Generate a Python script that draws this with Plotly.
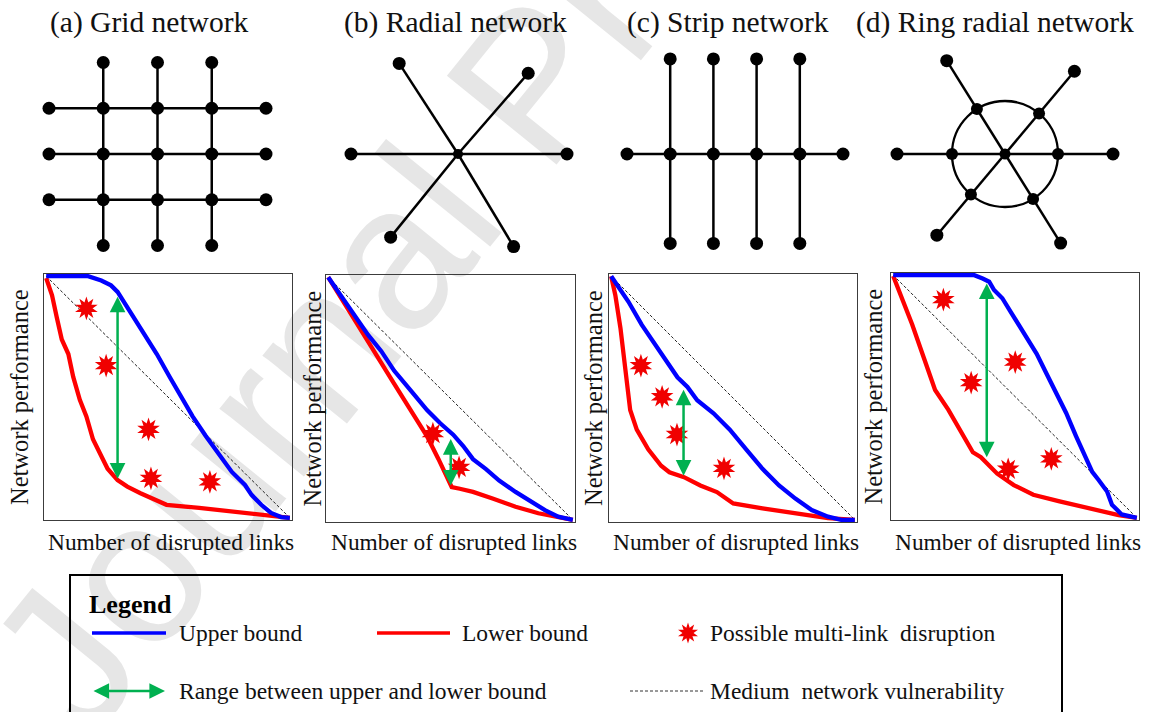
import math
import plotly.graph_objects as go

W, H = 1151, 712


def fx(p):
    return p / W


def fy(p):
    return 1 - p / H


# ---------------- text ----------------
TITLES = ["(a) Grid network", "(b) Radial network", "(c) Strip network", "(d) Ring radial network"]
X_LABEL = "Number of disrupted links"
Y_LABEL = "Network performance"
LEGEND_TITLE = "Legend"
LEGEND_LABELS = ["Upper bound", "Lower bound", "Possible multi-link  disruption",
                 "Range between upper and lower bound", "Medium  network vulnerability"]
WATERMARK = "Journal Pre-proof"

# ---------------- performance curves (normalised 0..1) ----------------
A_UP_X = [0, 0.172, 0.226, 0.266, 0.293, 0.319, 0.360, 0.400, 0.454, 0.507, 0.561, 0.601, 0.655,
          0.709, 0.762, 0.816, 0.843, 0.883, 0.923, 0.964, 1.0]
A_UP_Y = [1.0, 1.0, 0.982, 0.962, 0.935, 0.894, 0.827, 0.766, 0.678, 0.583, 0.488, 0.420, 0.339,
          0.264, 0.190, 0.136, 0.095, 0.054, 0.020, 0.003, 0.0]
A_LO_X = [0, 0.024, 0.044, 0.064, 0.091, 0.111, 0.138, 0.165, 0.192, 0.226, 0.252, 0.293, 0.333,
          0.387, 0.494, 0.628, 0.762, 0.897, 1.0]
A_LO_Y = [0.992, 0.921, 0.827, 0.738, 0.678, 0.583, 0.488, 0.420, 0.325, 0.257, 0.203, 0.156, 0.129,
          0.102, 0.054, 0.041, 0.027, 0.014, 0.0]
A_ARROW = [0.293, 0.915, 0.156]
A_STAR_X = [0.165, 0.246, 0.420, 0.430, 0.672]
A_STAR_Y = [0.867, 0.630, 0.366, 0.163, 0.149]

B_UP_X = [0, 0.043, 0.096, 0.163, 0.217, 0.270, 0.337, 0.404, 0.458, 0.511, 0.552, 0.592, 0.645,
          0.699, 0.766, 0.833, 0.886, 0.940, 1.0]
B_UP_Y = [1.0, 0.938, 0.857, 0.762, 0.695, 0.614, 0.533, 0.452, 0.398, 0.351, 0.304, 0.250, 0.209,
          0.162, 0.115, 0.074, 0.040, 0.013, 0.0]
B_LO_X = [0, 0.070, 0.137, 0.203, 0.270, 0.337, 0.404, 0.451, 0.485, 0.505, 0.538, 0.592, 0.672,
          0.766, 0.859, 0.940, 1.0]
B_LO_Y = [1.0, 0.884, 0.776, 0.668, 0.560, 0.452, 0.344, 0.250, 0.182, 0.135, 0.128, 0.115, 0.088,
          0.054, 0.027, 0.009, 0.0]
B_ARROW = [0.501, 0.333, 0.135]
B_STAR_X = [0.428, 0.535]
B_STAR_Y = [0.355, 0.216]

C_UP_X = [0, 0.031, 0.071, 0.125, 0.179, 0.232, 0.272, 0.313, 0.353, 0.420, 0.487, 0.554, 0.621,
          0.689, 0.756, 0.823, 0.890, 0.944, 1.0]
C_UP_Y = [1.0, 0.956, 0.895, 0.801, 0.720, 0.639, 0.585, 0.545, 0.491, 0.437, 0.370, 0.289, 0.209,
          0.141, 0.087, 0.040, 0.013, 0.0, 0.0]
C_LO_X = [0, 0.017, 0.038, 0.058, 0.078, 0.105, 0.152, 0.205, 0.239, 0.299, 0.366, 0.434, 0.501,
          0.621, 0.756, 0.890, 1.0]
C_LO_Y = [1.0, 0.922, 0.787, 0.612, 0.451, 0.370, 0.289, 0.222, 0.195, 0.175, 0.141, 0.114, 0.067,
          0.047, 0.027, 0.007, 0.0]
C_ARROW = [0.297, 0.534, 0.175]
C_STAR_X = [0.122, 0.209, 0.270, 0.463]
C_STAR_Y = [0.633, 0.505, 0.350, 0.211]

D_UP_X = [0, 0.333, 0.367, 0.394, 0.414, 0.448, 0.481, 0.535, 0.589, 0.629, 0.669, 0.710, 0.750,
          0.790, 0.817, 0.844, 0.878, 0.898, 0.938, 1.0]
D_UP_Y = [1.0, 1.0, 0.986, 0.973, 0.939, 0.905, 0.851, 0.764, 0.676, 0.595, 0.514, 0.432, 0.338,
          0.243, 0.189, 0.155, 0.108, 0.054, 0.014, 0.0]
D_LO_X = [0, 0.038, 0.078, 0.125, 0.172, 0.226, 0.280, 0.327, 0.360, 0.394, 0.427, 0.495, 0.575,
          0.683, 0.817, 0.925, 1.0]
D_LO_Y = [0.997, 0.905, 0.797, 0.662, 0.527, 0.446, 0.351, 0.270, 0.250, 0.216, 0.182, 0.135, 0.095,
          0.068, 0.034, 0.011, 0.0]
D_ARROW = [0.384, 0.966, 0.243]
D_STAR_X = [0.206, 0.501, 0.320, 0.649, 0.472]
D_STAR_Y = [0.899, 0.642, 0.557, 0.243, 0.200]

MEDIUM_X = [0, 1]
MEDIUM_Y = [1, 0]

PANELS = [
    (A_UP_X, A_UP_Y, A_LO_X, A_LO_Y, A_ARROW, A_STAR_X, A_STAR_Y),
    (B_UP_X, B_UP_Y, B_LO_X, B_LO_Y, B_ARROW, B_STAR_X, B_STAR_Y),
    (C_UP_X, C_UP_Y, C_LO_X, C_LO_Y, C_ARROW, C_STAR_X, C_STAR_Y),
    (D_UP_X, D_UP_Y, D_LO_X, D_LO_Y, D_ARROW, D_STAR_X, D_STAR_Y),
]

# ---------------- network topologies ----------------
GRID_INNER = [-1, 0, 1]          # interior rows / columns (grid units)
GRID_END = 2                     # stub end position (grid units)
RADIAL_ANGLES = [0, 49, 123, 180, 231, 301]       # degrees
RADIAL_LENGTHS = [109, 107, 108, 107, 107, 108]
STRIP_COLS = [-1.5, -0.5, 0.5, 1.5]  # strip columns (strip units)
STRIP_END = 2.5
STRIP_TOP = 2.2
STRIP_BOTTOM = -2.07
RING_ANGLES = [0, 50, 122, 180, 230, 302]
RING_LENGTHS = [108, 108, 110, 108, 106, 105]
RING_RADIUS = 53

# ---------------- layout geometry (pixels) ----------------
BOXES = [(44, 274, 292, 520), (326, 275, 575, 522), (609, 274, 857, 522), (891, 273, 1139, 520)]
TITLE_X = [149, 455, 728, 995]
YTITLE_X = [20, 312, 593, 873]
NET_CENTERS = [(157.5, 154), (458, 154), (735, 154), (1005, 154)]
NET_HALF = (130, 108)
GRID_SX, GRID_SY = 54.25, 45.75
STRIP_S = 43.2

SERIF = "Liberation Serif"
BLUE = "#0000ff"
RED = "#ff0000"
GREEN = "#00b050"
STAR_RED = "#f00000"

fig = go.Figure()
layout_axes = {}
annotations = []
shapes = []


def sfx(i):
    return "" if i == 1 else str(i)


def add_axes(i, x0, y0, x1, y1, xr, yr, box):
    common = dict(showgrid=False, zeroline=False, showticklabels=False, ticks="", fixedrange=True)
    if box:
        common.update(showline=True, mirror=True, linecolor="#3c3c3c", linewidth=1)
    else:
        common.update(visible=False)
    layout_axes["xaxis" + sfx(i)] = dict(domain=[fx(x0), fx(x1)], range=xr, anchor="y" + sfx(i), **common)
    layout_axes["yaxis" + sfx(i)] = dict(domain=[fy(y1), fy(y0)], range=yr, anchor="x" + sfx(i), **common)


def star_traces(xs, ys, xa, ya, size):
    out = []
    for ang in (0, 36):
        out.append(go.Scatter(x=xs, y=ys, xaxis=xa, yaxis=ya, mode="markers", hoverinfo="skip",
                              marker=dict(symbol="star", size=size, angle=ang, color=STAR_RED,
                                          line=dict(width=0))))
    return out


# ---------------- performance panels ----------------
PAD = 0.009
for k, (ux, uy, lx, ly, arr, sx, sy) in enumerate(PANELS):
    i = k + 1
    x0, y0, x1, y1 = BOXES[k]
    add_axes(i, x0, y0, x1, y1, [-PAD, 1 + PAD], [-PAD, 1 + PAD], True)
    xa, ya = "x" + sfx(i), "y" + sfx(i)
    fig.add_trace(go.Scatter(x=MEDIUM_X, y=MEDIUM_Y, xaxis=xa, yaxis=ya, mode="lines", hoverinfo="skip",
                             line=dict(color="#222222", width=1, dash="3px,2px")))
    fig.add_trace(go.Scatter(x=lx, y=ly, xaxis=xa, yaxis=ya, mode="lines", hoverinfo="skip",
                             line=dict(color=RED, width=4.3)))
    fig.add_trace(go.Scatter(x=ux, y=uy, xaxis=xa, yaxis=ya, mode="lines", hoverinfo="skip",
                             line=dict(color=BLUE, width=4.3)))
    for t in star_traces(sx, sy, xa, ya, 17):
        fig.add_trace(t)
    annotations.append(dict(xref=xa, yref=ya, axref=xa, ayref=ya, x=arr[0], y=arr[1], ax=arr[0], ay=arr[2],
                            text="", showarrow=True, arrowside="end+start", arrowhead=2, startarrowhead=2,
                            arrowsize=1.25, startarrowsize=1.25, arrowwidth=2.5, arrowcolor=GREEN))
    annotations.append(dict(xref="paper", yref="paper", x=fx(TITLE_X[k]), y=fy(22), text=TITLES[k],
                            showarrow=False, xanchor="center", yanchor="middle",
                            font=dict(family=SERIF, size=29.5, color="#111111")))
    annotations.append(dict(xref="paper", yref="paper", x=fx((x0 + x1) / 2 + 3), y=fy(542), text=X_LABEL,
                            showarrow=False, xanchor="center", yanchor="middle",
                            font=dict(family=SERIF, size=23.4, color="#111111")))
    annotations.append(dict(xref="paper", yref="paper", x=fx(YTITLE_X[k]), y=fy((y0 + y1) / 2), text=Y_LABEL,
                            showarrow=False, xanchor="center", yanchor="middle", textangle=-90,
                            font=dict(family=SERIF, size=24.5, color="#111111")))

# ---------------- network diagrams ----------------
EDGE = dict(color="#000000", width=2.5)


def net_axes(i, k):
    cx, cy = NET_CENTERS[k]
    hw, hh = NET_HALF
    add_axes(i, cx - hw, cy - hh, cx + hw, cy + hh, [-hw, hw], [-hh, hh], False)
    return "x" + sfx(i), "y" + sfx(i)


def add_edges(segs, xa, ya):
    xs, ys = [], []
    for (p, q) in segs:
        xs += [p[0], q[0], None]
        ys += [p[1], q[1], None]
    fig.add_trace(go.Scatter(x=xs, y=ys, xaxis=xa, yaxis=ya, mode="lines", line=EDGE, hoverinfo="skip"))


def add_nodes(pts, xa, ya, size):
    fig.add_trace(go.Scatter(x=[p[0] for p in pts], y=[p[1] for p in pts], xaxis=xa, yaxis=ya,
                             mode="markers", hoverinfo="skip", marker=dict(color="#000000", size=size)))


# (a) grid
xa, ya = net_axes(5, 0)
segs, nodes = [], []
for r in GRID_INNER:
    segs.append(((-GRID_END * GRID_SX, r * GRID_SY), (GRID_END * GRID_SX, r * GRID_SY)))
    nodes += [(-GRID_END * GRID_SX, r * GRID_SY), (GRID_END * GRID_SX, r * GRID_SY)]
for c in GRID_INNER:
    segs.append(((c * GRID_SX, -GRID_END * GRID_SY), (c * GRID_SX, GRID_END * GRID_SY)))
    nodes += [(c * GRID_SX, -GRID_END * GRID_SY), (c * GRID_SX, GRID_END * GRID_SY)]
    for r in GRID_INNER:
        nodes.append((c * GRID_SX, r * GRID_SY))
add_edges(segs, xa, ya)
add_nodes(nodes, xa, ya, 13)

# (b) radial
xa, ya = net_axes(6, 1)
outer = [(L * math.cos(math.radians(a)), L * math.sin(math.radians(a)))
         for a, L in zip(RADIAL_ANGLES, RADIAL_LENGTHS)]
add_edges([((0, 0), p) for p in outer], xa, ya)
add_nodes(outer, xa, ya, 13)
add_nodes([(0, 0)], xa, ya, 10)

# (c) strip
xa, ya = net_axes(7, 2)
segs = [((-STRIP_END * STRIP_S, 0), (STRIP_END * STRIP_S, 0))]
nodes = [(-STRIP_END * STRIP_S, 0), (STRIP_END * STRIP_S, 0)]
for c in STRIP_COLS:
    segs.append(((c * STRIP_S, STRIP_BOTTOM * STRIP_S), (c * STRIP_S, STRIP_TOP * STRIP_S)))
    nodes += [(c * STRIP_S, STRIP_BOTTOM * STRIP_S), (c * STRIP_S, 0), (c * STRIP_S, STRIP_TOP * STRIP_S)]
add_edges(segs, xa, ya)
add_nodes(nodes, xa, ya, 13)

# (d) ring radial
xa, ya = net_axes(8, 3)
outer = [(L * math.cos(math.radians(a)), L * math.sin(math.radians(a)))
         for a, L in zip(RING_ANGLES, RING_LENGTHS)]
ring = [(RING_RADIUS * math.cos(math.radians(a)), RING_RADIUS * math.sin(math.radians(a)))
        for a in RING_ANGLES]
shapes.append(dict(type="circle", xref=xa, yref=ya, x0=-RING_RADIUS, x1=RING_RADIUS,
                   y0=-RING_RADIUS, y1=RING_RADIUS, line=dict(color="#000000", width=2.3), layer="above"))
add_edges([((0, 0), p) for p in outer], xa, ya)
add_nodes(outer, xa, ya, 13)
add_nodes(ring, xa, ya, 12)
add_nodes([(0, 0)], xa, ya, 11)

# ---------------- legend (pixel axis over the whole page) ----------------
add_axes(9, 0, 0, W, H, [0, W], [H, 0], False)
xa, ya = "x9", "y9"
ROW1, ROW2 = 633, 691
fig.add_trace(go.Scatter(x=[92, 166], y=[ROW1, ROW1], xaxis=xa, yaxis=ya, mode="lines",
                         line=dict(color=BLUE, width=3.5), hoverinfo="skip"))
fig.add_trace(go.Scatter(x=[377, 450], y=[ROW1, ROW1], xaxis=xa, yaxis=ya, mode="lines",
                         line=dict(color=RED, width=3.5), hoverinfo="skip"))
for t in star_traces([688], [ROW1], xa, ya, 15):
    fig.add_trace(t)
fig.add_trace(go.Scatter(x=[630, 705], y=[ROW2, ROW2], xaxis=xa, yaxis=ya, mode="lines",
                         line=dict(color="#333333", width=1, dash="3px,2px"), hoverinfo="skip"))
annotations.append(dict(xref=xa, yref=ya, axref=xa, ayref=ya, x=165, y=ROW2, ax=92, ay=ROW2,
                        text="", showarrow=True, arrowside="end+start", arrowhead=2, startarrowhead=2,
                        arrowsize=1.25, startarrowsize=1.25, arrowwidth=2.5, arrowcolor=GREEN))

legend_text_pos = [(177, ROW1), (460, ROW1), (708, ROW1), (177, ROW2), (708, ROW2)]
for (px, py), lab in zip(legend_text_pos, LEGEND_LABELS):
    annotations.append(dict(xref="paper", yref="paper", x=fx(px), y=fy(py), text=lab, showarrow=False,
                            xanchor="left", yanchor="middle",
                            font=dict(family=SERIF, size=23.5, color="#111111")))
annotations.append(dict(xref="paper", yref="paper", x=fx(87), y=fy(604), text="<b>" + LEGEND_TITLE + "</b>",
                        showarrow=False, xanchor="left", yanchor="middle",
                        font=dict(family=SERIF, size=26, color="#000000")))
shapes.append(dict(type="rect", xref="paper", yref="paper", x0=fx(70), x1=fx(1062), y0=fy(730), y1=fy(575),
                   line=dict(color="#000000", width=2), fillcolor="rgba(0,0,0,0)", layer="above"))

# ---------------- watermark (drawn beneath everything) ----------------
WM_CX, WM_CY = 515, 72
shapes.append(dict(type="rect", xref="paper", yref="paper", x0=fx(WM_CX - 40), x1=fx(WM_CX + 40),
                   y0=fy(WM_CY + 40), y1=fy(WM_CY - 40), line=dict(width=0), fillcolor="rgba(0,0,0,0)",
                   layer="below",
                   label=dict(text=WATERMARK, textangle=-51, textposition="middle center",
                              font=dict(family="Liberation Sans", size=205, color="#e6e6e6"))))

fig.update_layout(width=W, height=H, margin=dict(l=0, r=0, t=0, b=0),
                  paper_bgcolor="#ffffff", plot_bgcolor="rgba(0,0,0,0)", showlegend=False,
                  annotations=annotations, shapes=shapes, **layout_axes)

fig.write_html("out.html")
